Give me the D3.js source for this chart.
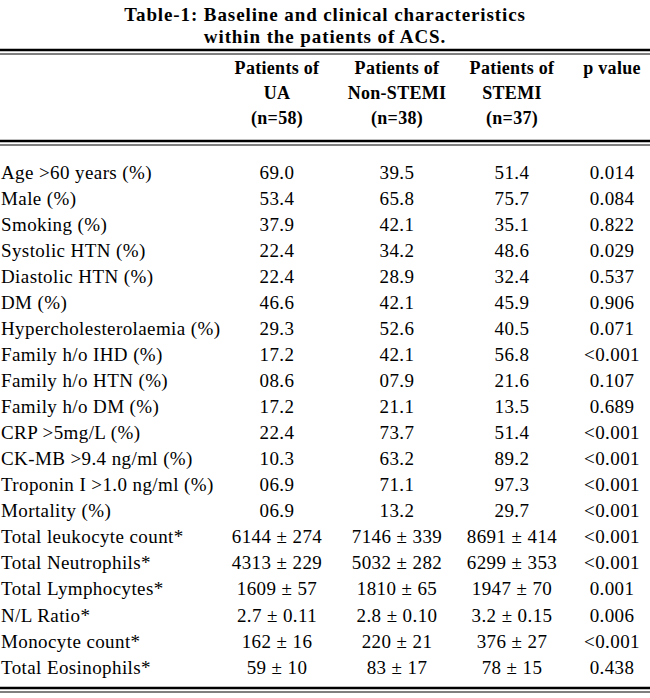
<!DOCTYPE html><html><head><script src="https://cdn.jsdelivr.net/npm/d3@7"></script>
<style>body{margin:0;background:#fff}</style></head><body><svg id="c" width="650" height="698"></svg>
<script>
const title=["Table-1: Baseline and clinical characteristics","within the patients of ACS."];
const headers=[["Patients of","UA","(n=58)"],["Patients of","Non-STEMI","(n=38)"],["Patients of","STEMI","(n=37)"],["p value","",""]];
const labels=["Age >60 years (%)","Male (%)","Smoking (%)","Systolic HTN (%)","Diastolic HTN (%)","DM (%)","Hypercholesterolaemia (%)","Family h/o IHD (%)","Family h/o HTN (%)","Family h/o DM (%)","CRP >5mg/L (%)","CK-MB >9.4 ng/ml (%)","Troponin I >1.0 ng/ml (%)","Mortality (%)","Total leukocyte count*","Total Neutrophils*","Total Lymphocytes*","N/L Ratio*","Monocyte count*","Total Eosinophils*"];
const ua=["69.0","53.4","37.9","22.4","22.4","46.6","29.3","17.2","08.6","17.2","22.4","10.3","06.9","06.9","6144 ± 274","4313 ± 229","1609 ± 57","2.7 ± 0.11","162 ± 16","59 ± 10"];
const nst=["39.5","65.8","42.1","34.2","28.9","42.1","52.6","42.1","07.9","21.1","73.7","63.2","71.1","13.2","7146 ± 339","5032 ± 282","1810 ± 65","2.8 ± 0.10","220 ± 21","83 ± 17"];
const st=["51.4","75.7","35.1","48.6","32.4","45.9","40.5","56.8","21.6","13.5","51.4","89.2","97.3","29.7","8691 ± 414","6299 ± 353","1947 ± 70","3.2 ± 0.15","376 ± 27","78 ± 15"];
const pv=["0.014","0.084","0.822","0.029","0.537","0.906","0.071","<0.001","0.107","0.689","<0.001","<0.001","<0.001","<0.001","<0.001","<0.001","0.001","0.006","<0.001","0.438"];
const svg=d3.select("#c");const F="Liberation Serif, Times New Roman, serif";
const cols=[277,397,512,612];
const y=d3.scaleLinear().domain([0,19]).range([172,667]);
title.forEach((t,i)=>svg.append("text").attr("x",325).attr("y",14+i*22).attr("dy","0.35em").attr("text-anchor","middle").attr("font-family",F).attr("font-weight","bold").attr("font-size",19).attr("letter-spacing",0.9).text(t));
headers.forEach((h,c)=>h.forEach((t,r)=>svg.append("text").attr("x",cols[c]).attr("y",68+r*25).attr("dy","0.35em").attr("text-anchor","middle").attr("font-family",F).attr("font-weight","bold").attr("font-size",18).attr("letter-spacing",0.3).text(t)));
[[50,2.5],[54,1],[141,2.5],[145,1],[688,2.5],[692,1]].forEach(([yy,w])=>svg.append("line").attr("x1",0).attr("x2",650).attr("y1",yy).attr("y2",yy).attr("stroke","#000").attr("stroke-width",w));
const g=svg.append("g").attr("font-family",F).attr("font-size",19).attr("letter-spacing",0.4);
labels.forEach((l,i)=>{
 g.append("text").attr("x",1).attr("y",y(i)).attr("dy","0.35em").text(l);
 [ua,nst,st,pv].forEach((a,c)=>g.append("text").attr("x",cols[c]).attr("y",y(i)).attr("dy","0.35em").attr("text-anchor","middle").text(a[i]));
});
</script></body></html>
